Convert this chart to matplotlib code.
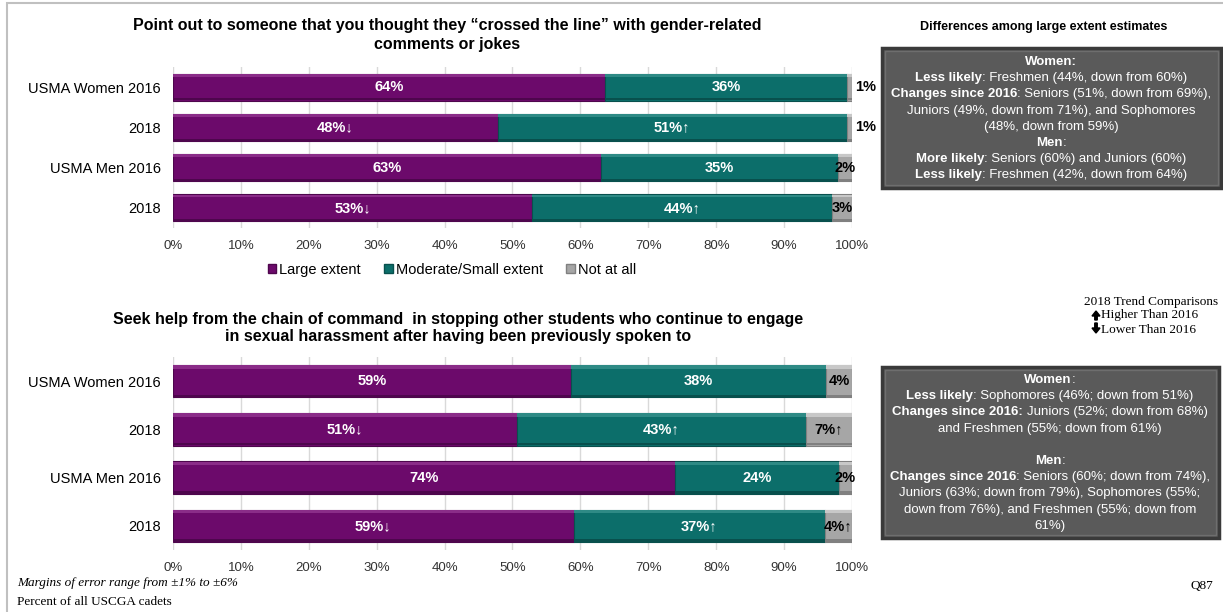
import numpy as np
import matplotlib
matplotlib.use("Agg")
import matplotlib.pyplot as plt
import matplotlib.patches as mpatches
from matplotlib.transforms import IdentityTransform

plt.rcParams['font.family'] = ['Liberation Sans', 'DejaVu Sans']

W, H = 1223, 612

groups = ["USMA Women 2016", "2018", "USMA Men 2016", "2018"]
ticks = np.arange(0, 101, 10)
series_names = ["Large extent", "Moderate/Small extent", "Not at all"]

# Q1 - point out that someone "crossed the line"
q1_title = ("Point out to someone that you thought they \u201ccrossed the line\u201d with gender-related\n"
            "comments or jokes")
q1_large = [63.6, 47.8, 63.1, 52.9]
q1_mod = [35.7, 51.4, 34.8, 44.2]
q1_not = [0.7, 0.8, 2.1, 2.9]
q1_large_trend = ["", "\u2193", "", "\u2193"]
q1_mod_trend = ["", "\u2191", "", "\u2191"]
q1_not_trend = ["", "", "", ""]

# Q2 - seek help from the chain of command
q2_title = ("Seek help from the chain of command  in stopping other students who continue to engage\n"
            "in sexual harassment after having been previously spoken to")
q2_large = [58.6, 50.6, 73.9, 59.0]
q2_mod = [37.6, 42.6, 24.2, 37.0]
q2_not = [3.8, 6.8, 1.9, 4.0]
q2_large_trend = ["", "\u2193", "", "\u2193"]
q2_mod_trend = ["", "\u2191", "", "\u2191"]
q2_not_trend = ["", "\u2191", "", "\u2191"]

# notes in the grey boxes: (text, bold)
box1_lines = [
    [("Women:", True)],
    [("Less likely", True), (": Freshmen (44%, down from 60%)", False)],
    [("Changes since 2016", True), (": Seniors (51%, down from 69%),", False)],
    [("Juniors (49%, down from 71%), and Sophomores", False)],
    [("(48%, down from 59%)", False)],
    [("Men", True), (":", False)],
    [("More likely", True), (": Seniors (60%) and Juniors (60%)", False)],
    [("Less likely", True), (": Freshmen (42%, down from 64%)", False)],
]
box2_lines = [
    [("Women", True), (":", False)],
    [("Less likely", True), (": Sophomores (46%; down from 51%)", False)],
    [("Changes since 2016:", True), (" Juniors (52%; down from 68%)", False)],
    [("and Freshmen (55%; down from 61%)", False)],
    [],
    [("Men", True), (":", False)],
    [("Changes since 2016", True), (": Seniors (60%; down from 74%),", False)],
    [("Juniors (63%; down from 79%), Sophomores (55%;", False)],
    [("down from 76%), and Freshmen (55%; down from", False)],
    [("61%)", False)],
]

C_LARGE = "#6C0A6B"
C_MOD = "#0C6E6A"
C_NOT = "#A6A6A6"
LIGHT = {C_LARGE: "#8A2C88", C_MOD: "#2E8A85", C_NOT: "#C8C8C8"}
DARK = {C_LARGE: "#4E064D", C_MOD: "#08504D", C_NOT: "#808080"}


def fx(px):
    return px / W


def fy(py):
    return 1 - py / H


def draw_stack(ax, large, mod, notat, t_large, t_mod, t_not):
    y = np.arange(len(groups))
    h = 0.67
    left = np.zeros(len(groups))
    for vals, col in [(large, C_LARGE), (mod, C_MOD), (notat, C_NOT)]:
        vals = np.array(vals)
        ax.barh(y, vals, left=left, height=h, color=col, edgecolor=DARK[col], linewidth=0.8, zorder=3)
        # bevel look: light strip on top, dark strip on bottom
        ax.barh(y - h / 2 + 0.04, vals, left=left, height=0.07, color=LIGHT[col], linewidth=0, zorder=4)
        ax.barh(y + h / 2 - 0.03, vals, left=left, height=0.05, color=DARK[col], linewidth=0, zorder=4)
        left = left + vals

    for i in range(len(groups)):
        ax.text(large[i] / 2, i, f"{round(large[i])}%{t_large[i]}", ha='center', va='center',
                color='white', fontsize=10.5, fontweight='bold', zorder=5)
        ax.text(large[i] + mod[i] / 2, i, f"{round(mod[i])}%{t_mod[i]}", ha='center', va='center',
                color='white', fontsize=10.5, fontweight='bold', zorder=5)
        lab = f"{round(notat[i])}%{t_not[i]}"
        if notat[i] < 1.5:
            ax.text(100.4, i, lab, ha='left', va='center', color='black', fontsize=10.5,
                    fontweight='bold', zorder=5, clip_on=False)
        else:
            ax.text(large[i] + mod[i] + notat[i] / 2, i, lab, ha='center', va='center', color='black',
                    fontsize=10.5, fontweight='bold', zorder=5, clip_on=False)

    ax.set_xlim(0, 100)
    ax.set_ylim(len(groups) - 0.5, -0.5)
    ax.set_yticks(y)
    ax.set_yticklabels(groups, fontsize=10.5)
    ax.set_xticks(ticks)
    ax.set_xticklabels([f"{t}%" for t in ticks], fontsize=9.5, color='#333333')
    ax.tick_params(axis='both', length=0)
    ax.tick_params(axis='y', pad=9)
    ax.tick_params(axis='x', pad=8.5)
    ax.grid(axis='x', color='#D9D9D9', linewidth=1, zorder=0)
    ax.set_axisbelow(True)
    for s in ax.spines.values():
        s.set_visible(False)


def rich_line(fig, renderer, segs, cx, cy, size=9.5):
    if not segs:
        return
    widths = []
    arts = []
    gaps = []
    for s, bold in segs:
        w = 'bold' if bold else 'normal'
        t = fig.text(0, 0, s.strip(), transform=IdentityTransform(), fontsize=size, fontweight=w,
                     color='white', ha='left', va='center')
        a = fig.text(0, 0, "a a", fontsize=size, fontweight=w)
        b = fig.text(0, 0, "aa", fontsize=size, fontweight=w)
        sp = a.get_window_extent(renderer).width - b.get_window_extent(renderer).width
        a.remove()
        b.remove()
        gaps.append((sp if s.startswith(" ") else 0, sp if s.endswith(" ") else 0))
        widths.append(t.get_window_extent(renderer).width)
        arts.append(t)
    total = sum(widths) + sum(g[0] + g[1] for g in gaps)
    x = cx - total / 2
    for t, w, g in zip(arts, widths, gaps):
        x += g[0]
        t.set_position((x, H - cy))
        x += w + g[1]


fig = plt.figure(figsize=(W / 100, H / 100), dpi=100)
renderer = fig.canvas.get_renderer()

ax1 = fig.add_axes([fx(173), fy(228), fx(852) - fx(173), fy(67) - fy(228)])
draw_stack(ax1, q1_large, q1_mod, q1_not, q1_large_trend, q1_mod_trend, q1_not_trend)

ax2 = fig.add_axes([fx(173), fy(550), fx(852) - fx(173), fy(357) - fy(550)])
draw_stack(ax2, q2_large, q2_mod, q2_not, q2_large_trend, q2_mod_trend, q2_not_trend)

fig.text(fx(447), fy(35), q1_title, ha='center', va='center', fontsize=11.5, fontweight='bold',
         linespacing=1.4)
fig.text(fx(458), fy(328), q2_title, ha='center', va='center', fontsize=11.5, fontweight='bold',
         linespacing=1.12)

handles = [mpatches.Patch(facecolor=c, edgecolor=DARK[c]) for c in [C_LARGE, C_MOD, C_NOT]]
fig.legend(handles, series_names, loc='center', bbox_to_anchor=(fx(452), fy(270)), ncol=3,
           frameon=False, fontsize=10.5, handlelength=0.6, handleheight=0.6, handletextpad=0.2,
           columnspacing=1.6)

# right-hand notes
fig.text(fx(1044), fy(27), "Differences among large extent estimates", ha='center', va='center',
         fontsize=9, fontweight='bold')

for (x0, y0, x1, y1) in [(882, 48, 1221, 188), (882, 367, 1219, 538)]:
    fig.add_artist(mpatches.Rectangle((x0, H - y1), x1 - x0, y1 - y0, transform=IdentityTransform(),
                                      facecolor='#5A5A5A', edgecolor='#3A3A3A', linewidth=2.5))
    fig.add_artist(mpatches.Rectangle((x0 + 3, H - y1 + 3), x1 - x0 - 6, y1 - y0 - 6,
                                      transform=IdentityTransform(), facecolor='none',
                                      edgecolor='#6E6E6E', linewidth=1))

for i, segs in enumerate(box1_lines):
    rich_line(fig, renderer, segs, 1051, 62 + i * 16.2)
for i, segs in enumerate(box2_lines):
    rich_line(fig, renderer, segs, 1050, 380 + i * 16.2)

# trend legend
serif = ['Liberation Serif', 'DejaVu Serif']
fig.text(fx(1084), fy(302), "2018 Trend Comparisons", family=serif, fontsize=9.5, ha='left', va='center')
fig.text(fx(1101), fy(315), "Higher Than 2016", family=serif, fontsize=9.5, ha='left', va='center')
fig.text(fx(1101), fy(330), "Lower Than 2016", family=serif, fontsize=9.5, ha='left', va='center')
fig.add_artist(mpatches.FancyArrow(1096, H - 320, 0, 9, width=2.5, head_width=8, head_length=5,
                                   length_includes_head=True, color='black',
                                   transform=IdentityTransform()))
fig.add_artist(mpatches.FancyArrow(1096, H - 323, 0, -10, width=2.5, head_width=8, head_length=5,
                                   length_includes_head=True, color='black',
                                   transform=IdentityTransform()))

# footer
fig.text(fx(17), fy(583), "Margins of error range from \u00b11% to \u00b16%", family=serif,
         style='italic', fontsize=9.5, ha='left', va='center')
fig.text(fx(17), fy(602), "Percent of all USCGA cadets", family=serif, fontsize=9.5, ha='left', va='center')
fig.text(fx(1213), fy(586), "Q87", family=serif, fontsize=9.5, ha='right', va='center')

# slide frame
fig.add_artist(mpatches.Rectangle((7, -20), 1400, H - 3 + 20, transform=IdentityTransform(),
                                  fill=False, edgecolor='#C0C0C0', linewidth=1.5))

fig.savefig("out.png", dpi=100)
